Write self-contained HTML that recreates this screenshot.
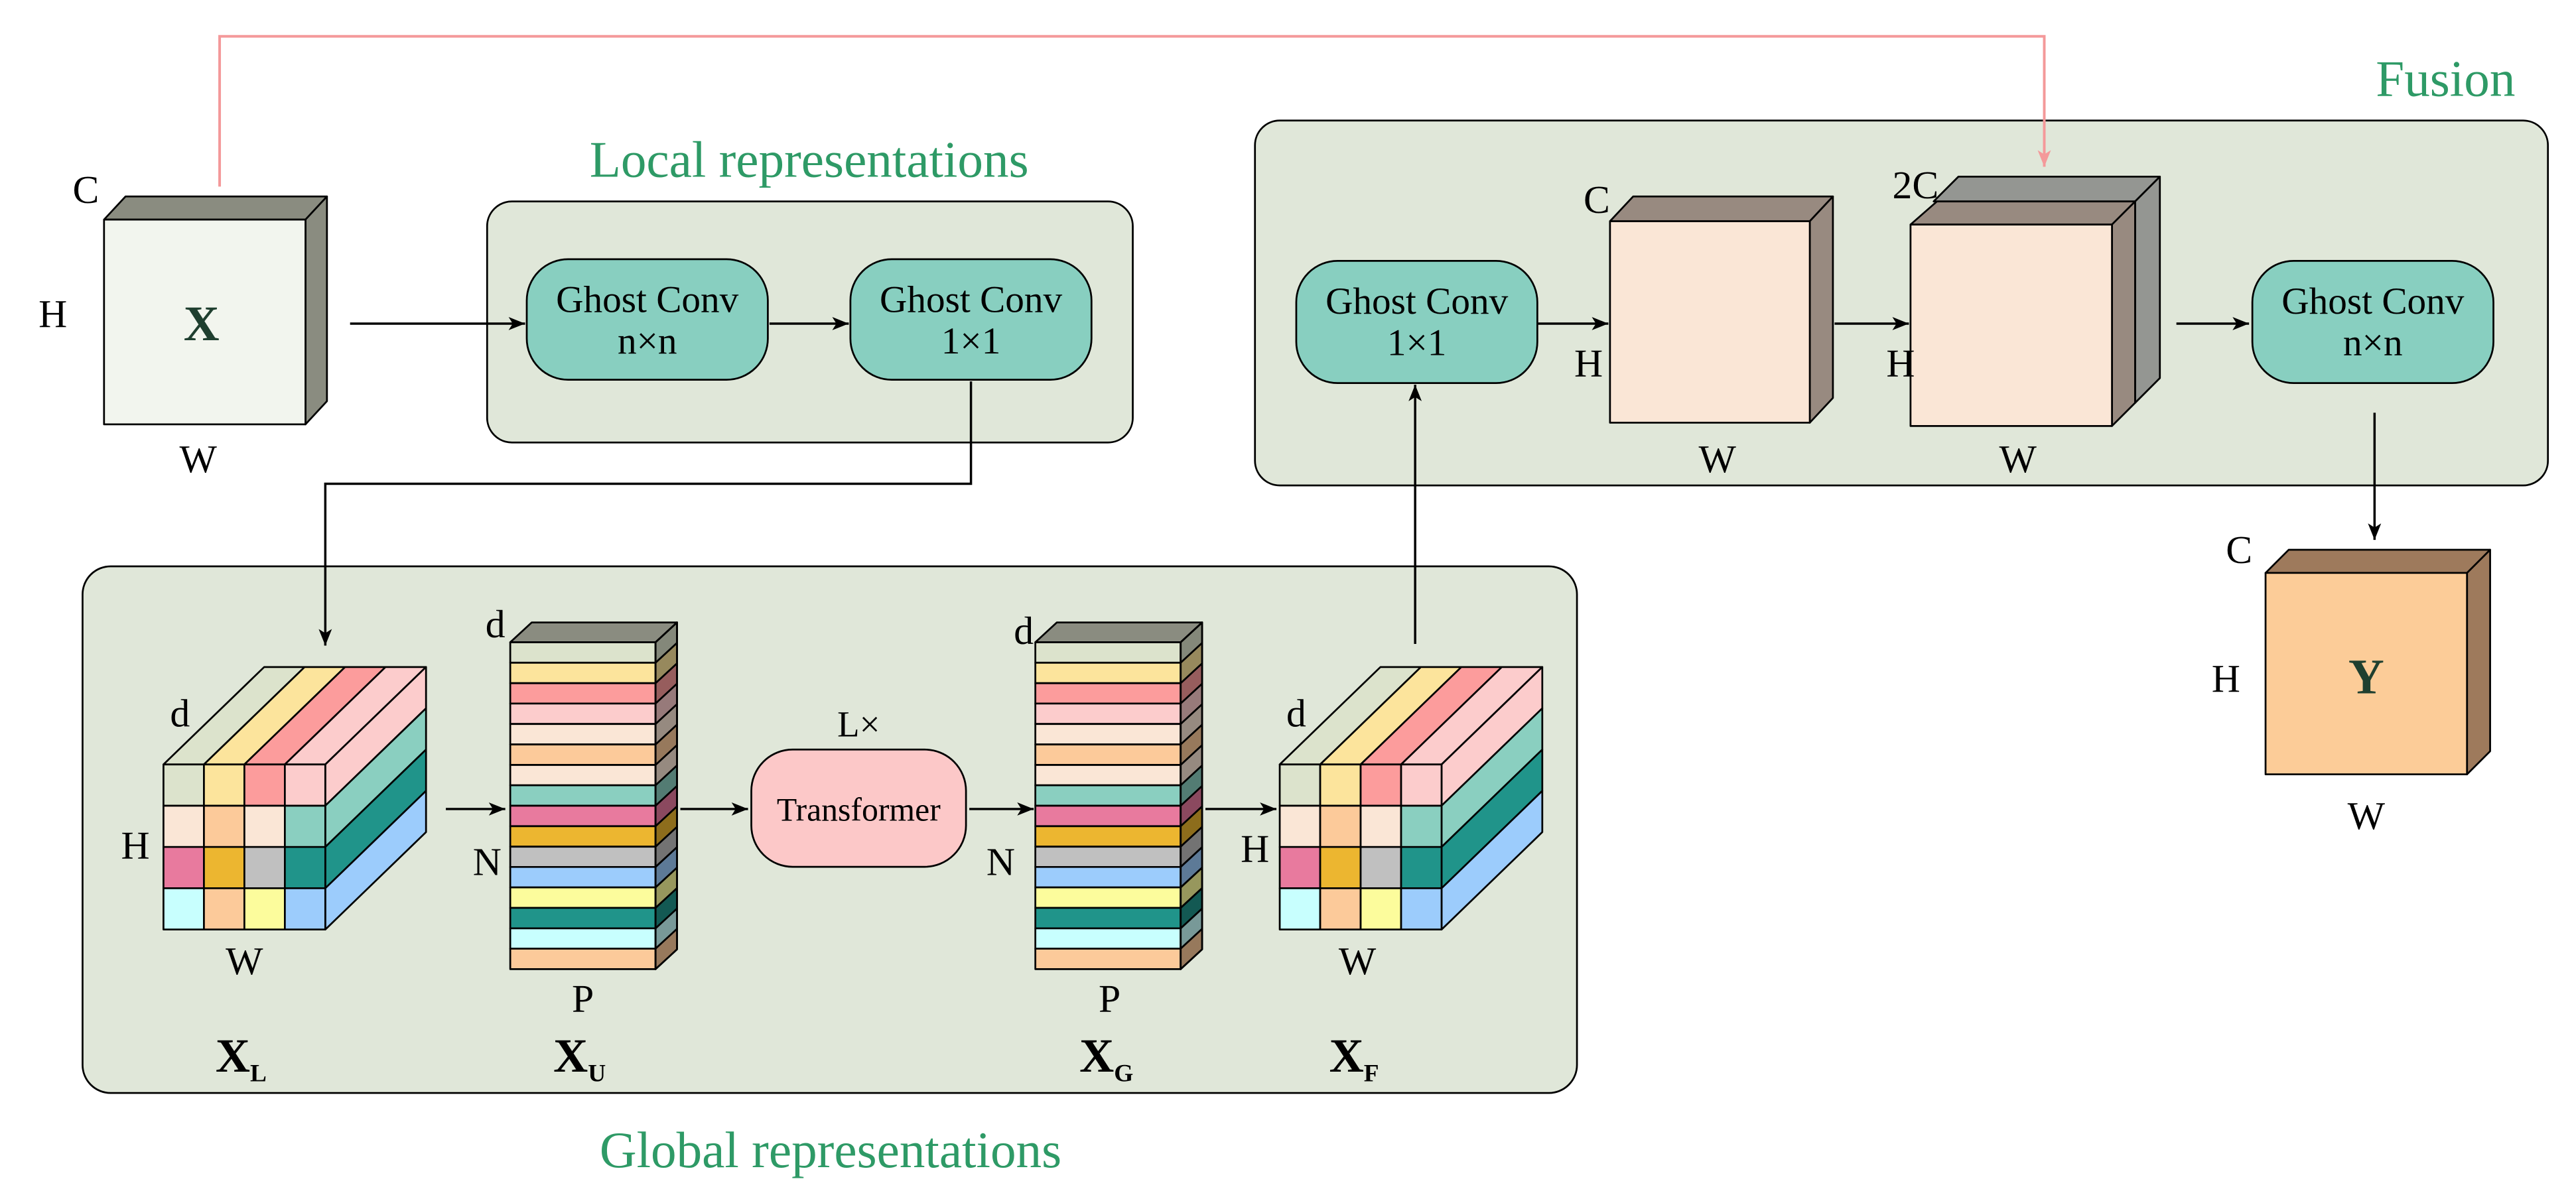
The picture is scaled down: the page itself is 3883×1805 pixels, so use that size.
<!DOCTYPE html>
<html><head><meta charset="utf-8"><style>
html,body{margin:0;padding:0;background:#fff;}
svg{display:block;font-family:"Liberation Serif","DejaVu Serif",serif;}
text{font-family:"Liberation Serif","DejaVu Serif",serif;}
</style></head><body>
<svg width="3883" height="1805" viewBox="0 0 1560 725" preserveAspectRatio="none" font-family="Liberation Serif, serif" xmlns="http://www.w3.org/2000/svg">
<defs>
<marker id="ah" markerWidth="10" markerHeight="8" refX="10" refY="4" orient="auto" markerUnits="userSpaceOnUse"><path d="M0,0 L10,4 L0,8 L2.5,4 z" fill="#000"/></marker>
<marker id="ahp" markerWidth="10" markerHeight="12" refX="10" refY="4" orient="auto" markerUnits="userSpaceOnUse"><path d="M0,0 L10,4 L0,8 L2.5,4 z" fill="#f4999a"/></marker>
<g id="cube4" stroke="#000" stroke-width="1.1" stroke-linejoin="round">
  <polygon points="99,463 160,404 184.5,404 123.5,463" fill="#dce3cc"/>
  <polygon points="123.5,463 184.5,404 209,404 148,463" fill="#fce49c"/>
  <polygon points="148,463 209,404 233.5,404 172.5,463" fill="#fc9c9c"/>
  <polygon points="172.5,463 233.5,404 258,404 197,463" fill="#fccccc"/>
  <polygon points="197,463 258,404 258,429 197,488" fill="#fccccc"/>
  <polygon points="197,488 258,429 258,454 197,513" fill="#8acfc0"/>
  <polygon points="197,513 258,454 258,479 197,538" fill="#20948a"/>
  <polygon points="197,538 258,479 258,504 197,563" fill="#9cccfc"/>
  <rect x="99" y="463" width="24.5" height="25" fill="#dce3cc"/>
  <rect x="123.5" y="463" width="24.5" height="25" fill="#fce49c"/>
  <rect x="148" y="463" width="24.5" height="25" fill="#fc9c9c"/>
  <rect x="172.5" y="463" width="24.5" height="25" fill="#fccccc"/>
  <rect x="99" y="488" width="24.5" height="25" fill="#fae6d6"/>
  <rect x="123.5" y="488" width="24.5" height="25" fill="#fcca9a"/>
  <rect x="148" y="488" width="24.5" height="25" fill="#fae6d6"/>
  <rect x="172.5" y="488" width="24.5" height="25" fill="#8acfc0"/>
  <rect x="99" y="513" width="24.5" height="25" fill="#e87a9e"/>
  <rect x="123.5" y="513" width="24.5" height="25" fill="#ecb630"/>
  <rect x="148" y="513" width="24.5" height="25" fill="#c0c0c0"/>
  <rect x="172.5" y="513" width="24.5" height="25" fill="#20948a"/>
  <rect x="99" y="538" width="24.5" height="25" fill="#c8fffe"/>
  <rect x="123.5" y="538" width="24.5" height="25" fill="#fcca9a"/>
  <rect x="148" y="538" width="24.5" height="25" fill="#fcfc9c"/>
  <rect x="172.5" y="538" width="24.5" height="25" fill="#9cccfc"/>
</g>
<g id="col" stroke="#000" stroke-width="1.1" stroke-linejoin="round">
  <polygon points="309,389 322,377 410,377 397,389" fill="#8a8c80"/>
  <g>
  <rect x="309" y="389" width="88" height="12.375" fill="#dce3cc"/><polygon points="397,389 410,377 410,389.4 397,401.4" fill="#dce3cc"/>
  <rect x="309" y="401.4" width="88" height="12.375" fill="#fce49c"/><polygon points="397,401.4 410,389.4 410,401.8 397,413.8" fill="#fce49c"/>
  <rect x="309" y="413.8" width="88" height="12.375" fill="#fc9c9c"/><polygon points="397,413.8 410,401.8 410,414.1 397,426.1" fill="#fc9c9c"/>
  <rect x="309" y="426.1" width="88" height="12.375" fill="#fccccc"/><polygon points="397,426.1 410,414.1 410,426.5 397,438.5" fill="#fccccc"/>
  <rect x="309" y="438.5" width="88" height="12.375" fill="#fae6d6"/><polygon points="397,438.5 410,426.5 410,438.9 397,450.9" fill="#fae6d6"/>
  <rect x="309" y="450.9" width="88" height="12.375" fill="#fcca9a"/><polygon points="397,450.9 410,438.9 410,451.3 397,463.3" fill="#fcca9a"/>
  <rect x="309" y="463.3" width="88" height="12.375" fill="#fae6d6"/><polygon points="397,463.3 410,451.3 410,463.6 397,475.6" fill="#fae6d6"/>
  <rect x="309" y="475.6" width="88" height="12.375" fill="#8acfc0"/><polygon points="397,475.6 410,463.6 410,476 397,488" fill="#8acfc0"/>
  <rect x="309" y="488" width="88" height="12.375" fill="#e87a9e"/><polygon points="397,488 410,476 410,488.4 397,500.4" fill="#e87a9e"/>
  <rect x="309" y="500.4" width="88" height="12.375" fill="#ecb630"/><polygon points="397,500.4 410,488.4 410,500.8 397,512.8" fill="#ecb630"/>
  <rect x="309" y="512.8" width="88" height="12.375" fill="#c0c0c0"/><polygon points="397,512.8 410,500.8 410,513.1 397,525.1" fill="#c0c0c0"/>
  <rect x="309" y="525.1" width="88" height="12.375" fill="#9cccfc"/><polygon points="397,525.1 410,513.1 410,525.5 397,537.5" fill="#9cccfc"/>
  <rect x="309" y="537.5" width="88" height="12.375" fill="#fcfc9c"/><polygon points="397,537.5 410,525.5 410,537.9 397,549.9" fill="#fcfc9c"/>
  <rect x="309" y="549.9" width="88" height="12.375" fill="#20948a"/><polygon points="397,549.9 410,537.9 410,550.3 397,562.3" fill="#20948a"/>
  <rect x="309" y="562.3" width="88" height="12.375" fill="#c8fffe"/><polygon points="397,562.3 410,550.3 410,562.6 397,574.6" fill="#c8fffe"/>
  <rect x="309" y="574.6" width="88" height="12.4" fill="#fcca9a"/><polygon points="397,574.6 410,562.6 410,575 397,587" fill="#fcca9a"/>
  </g>
  <polygon points="397,389 410,377 410,575 397,587" fill="#000" fill-opacity="0.4"/>
</g>
</defs>

<rect x="760" y="73" width="783" height="221" rx="15" fill="#e0e7d9" stroke="#000" stroke-width="1.1"/>
<rect x="295" y="122" width="391" height="146" rx="15" fill="#e0e7d9" stroke="#000" stroke-width="1.1"/>
<rect x="50" y="343" width="905" height="319" rx="17" fill="#e0e7d9" stroke="#000" stroke-width="1.1"/>

<g fill="#2e9a66" font-size="31" text-anchor="middle">
<text x="490" y="107">Local representations</text>
<text x="503" y="707">Global representations</text>
<text x="1481" y="58">Fusion</text>
</g>

<polyline points="133,113 133,22 1238,22 1238,101" fill="none" stroke="#f4999a" stroke-width="1.6" marker-end="url(#ahp)"/>

<g stroke="#000" stroke-width="1.1" stroke-linejoin="round">
<polygon points="63,133 76,119 198,119 185,133" fill="#8a8c80"/>
<polygon points="185,133 198,119 198,243 185,257" fill="#8a8c80"/>
<rect x="63" y="133" width="122" height="124" fill="#f2f5ee"/>
</g>
<g font-size="24" text-anchor="middle">
<text x="52" y="123">C</text><text x="32" y="198">H</text><text x="120" y="286">W</text>
<text x="122" y="206" font-size="30" font-weight="bold" fill="#1f3f2f">X</text>
</g>

<g stroke="#000" stroke-width="1.4" fill="none" marker-end="url(#ah)">
<line x1="212" y1="196" x2="318" y2="196"/>
<line x1="466" y1="196" x2="514" y2="196"/>
<polyline points="588,231 588,293 197,293 197,391"/>
<line x1="270" y1="490" x2="306" y2="490"/>
<line x1="412" y1="490" x2="453" y2="490"/>
<line x1="587" y1="490" x2="626" y2="490"/>
<line x1="730" y1="490" x2="773" y2="490"/>
<line x1="857" y1="390" x2="857" y2="233"/>
<line x1="931" y1="196" x2="974" y2="196"/>
<line x1="1111" y1="196" x2="1156" y2="196"/>
<line x1="1318" y1="196" x2="1362" y2="196"/>
<line x1="1438" y1="250" x2="1438" y2="327"/>
</g>

<g fill="#88cfc0" stroke="#000" stroke-width="1.1">
<rect x="319" y="157" width="146" height="73" rx="25"/>
<rect x="515" y="157" width="146" height="73" rx="25"/>
<rect x="785" y="158" width="146" height="74" rx="25"/>
<rect x="1364" y="158" width="146" height="74" rx="25"/>
</g>
<rect x="455" y="454" width="130" height="71" rx="25" fill="#fcc8c8" stroke="#000" stroke-width="1.1"/>
<g font-size="23" text-anchor="middle">
<text x="392" y="189">Ghost Conv</text><text x="392" y="214">n×n</text>
<text x="588" y="189">Ghost Conv</text><text x="588" y="214">1×1</text>
<text x="858" y="190">Ghost Conv</text><text x="858" y="215">1×1</text>
<text x="1437" y="190">Ghost Conv</text><text x="1437" y="215">n×n</text>
<text x="520" y="497" font-size="20">Transformer</text>
<text x="520" y="446" font-size="22">L×</text>
</g>

<use href="#cube4"/>
<use href="#cube4" transform="translate(676,0)"/>
<use href="#col"/>
<use href="#col" transform="translate(318,0)"/>
<g font-size="24" text-anchor="middle">
<text x="109" y="440">d</text><text x="82" y="520">H</text><text x="148" y="590">W</text>
<text x="300" y="386">d</text><text x="295" y="530">N</text><text x="353" y="613">P</text>
<text x="620" y="390">d</text><text x="606" y="530">N</text><text x="672" y="613">P</text>
<text x="785" y="440">d</text><text x="760" y="522">H</text><text x="822" y="590">W</text>
</g>
<g font-size="29" font-weight="bold" text-anchor="middle">
<text x="146" y="649">X<tspan font-size="15" dy="6">L</tspan></text>
<text x="351" y="649">X<tspan font-size="15" dy="6">U</tspan></text>
<text x="670" y="649">X<tspan font-size="15" dy="6">G</tspan></text>
<text x="820" y="649">X<tspan font-size="15" dy="6">F</tspan></text>
</g>

<g stroke="#000" stroke-width="1.1" stroke-linejoin="round">
<polygon points="975,134 989,119 1110,119 1096,134" fill="#988a80"/>
<polygon points="1096,134 1110,119 1110,241 1096,256" fill="#988a80"/>
<rect x="975" y="134" width="121" height="122" fill="#fae6d6"/>

<polygon points="1171,122 1186,107 1308,107 1293,122" fill="#949692"/>
<polygon points="1293,122 1308,107 1308,229 1293,244" fill="#949692"/>
<polygon points="1157,136 1173,122 1293,122 1279,136" fill="#988a80"/>
<polygon points="1279,136 1293,122 1293,244 1279,258" fill="#988a80"/>
<rect x="1157" y="136" width="122" height="122" fill="#fae6d6"/>

<polygon points="1372,347 1386,333 1508,333 1494,347" fill="#9e7a5c"/>
<polygon points="1494,347 1508,333 1508,455 1494,469" fill="#9e7a5c"/>
<rect x="1372" y="347" width="122" height="122" fill="#fccc98"/>
</g>
<g font-size="24" text-anchor="middle">
<text x="967" y="129">C</text><text x="962" y="228">H</text><text x="1040" y="286">W</text>
<text x="1160" y="120">2C</text><text x="1151" y="228">H</text><text x="1222" y="286">W</text>
<text x="1356" y="341">C</text><text x="1348" y="419">H</text><text x="1433" y="502">W</text>
<text x="1433" y="420" font-size="30" font-weight="bold" fill="#1f3f2f">Y</text>
</g>
</svg>
</body></html>
